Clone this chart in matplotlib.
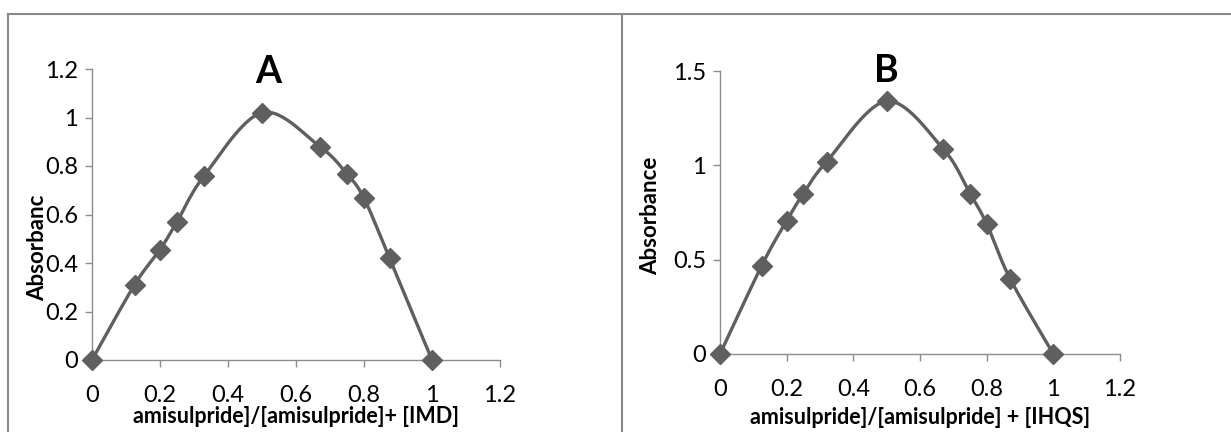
import numpy as np
import matplotlib.pyplot as plt
from matplotlib.lines import Line2D

plt.rcParams['font.family'] = ['Lato', 'DejaVu Sans']

# mole fraction of amisulpride
frac_a = [0, 0.125, 0.2, 0.25, 0.33, 0.5, 0.67, 0.75, 0.8, 0.875, 1]
abs_a = [0, 0.31, 0.455, 0.57, 0.76, 1.02, 0.88, 0.767, 0.667, 0.42, 0]

frac_b = [0, 0.125, 0.2, 0.25, 0.32, 0.5, 0.67, 0.75, 0.8, 0.87, 1]
abs_b = [0, 0.468, 0.707, 0.85, 1.02, 1.34, 1.086, 0.85, 0.69, 0.40, 0]

xticks = [0, 0.2, 0.4, 0.6, 0.8, 1, 1.2]
xtick_labels = ['0', '0.2', '0.4', '0.6', '0.8', '1', '1.2']

LINE = '#5f5f5f'
AXIS = '#8c8c8c'


def smooth(x, y, n=30):
    # Excel-like smoothed line: bezier segments with catmull-rom style handles
    x = np.asarray(x, float)
    y = np.asarray(y, float)
    px = np.concatenate([[x[0]], x, [x[-1]]])
    py = np.concatenate([[y[0]], y, [y[-1]]])
    t = np.linspace(0, 1, n)[:, None]
    xs, ys = [], []
    for i in range(1, len(px) - 2):
        p0 = np.array([px[i], py[i]])
        p3 = np.array([px[i + 1], py[i + 1]])
        c1 = p0 + (np.array([px[i + 1], py[i + 1]]) - np.array([px[i - 1], py[i - 1]])) / 6
        c2 = p3 - (np.array([px[i + 2], py[i + 2]]) - np.array([px[i], py[i]])) / 6
        pts = ((1 - t) ** 3) * p0 + 3 * ((1 - t) ** 2) * t * c1 + 3 * (1 - t) * t ** 2 * c2 + t ** 3 * p3
        xs.append(pts[:, 0])
        ys.append(pts[:, 1])
    return np.concatenate(xs), np.concatenate(ys)


def panel(ax, x, y, ymax, ystep, xlabel, ylabel):
    sx, sy = smooth(x, y)
    ax.plot(sx, sy, color=LINE, lw=2.4, zorder=3, clip_on=False)
    ax.plot(x, y, 'D', color=LINE, ms=10, zorder=4, clip_on=False)
    ax.set_xlim(0, 1.2)
    ax.set_ylim(0, ymax)
    ax.set_xticks(xticks)
    ax.set_xticklabels(xtick_labels)
    yt = np.arange(0, ymax + 1e-9, ystep)
    ax.set_yticks(yt)
    ax.set_yticklabels(['%g' % v for v in yt])
    for s in ['top', 'right']:
        ax.spines[s].set_visible(False)
    for s in ['left', 'bottom']:
        ax.spines[s].set_color(AXIS)
        ax.spines[s].set_linewidth(1.0)
    ax.tick_params(colors=AXIS, labelcolor='black', labelsize=17, length=5, width=1.0)
    ax.tick_params(axis='x', pad=13)
    ax.tick_params(axis='y', pad=5)
    ax.set_xlabel(xlabel, fontsize=15.5, fontweight='bold')
    ax.set_ylabel(ylabel, fontsize=16, fontweight='bold')


fig = plt.figure(figsize=(12.31, 4.32), dpi=100)

ax1 = fig.add_axes([92 / 1231, 1 - 360 / 432, 408 / 1231, 291 / 432])
panel(ax1, frac_a, abs_a, 1.2, 0.2,
      'amisulpride]/[amisulpride]+ [IMD]', 'Absorbanc')
ax1.text(0.431, 0.99, 'A', transform=ax1.transAxes, ha='center', va='center',
         fontsize=27, fontweight='bold')
ax1.xaxis.set_label_coords(0.5, -0.158)
ax1.yaxis.set_label_coords(-0.108, 0.385)

ax2 = fig.add_axes([720 / 1231, 1 - 354 / 432, 400 / 1231, 283 / 432])
panel(ax2, frac_b, abs_b, 1.5, 0.5,
      'amisulpride]/[amisulpride] + [IHQS]', 'Absorbance')
ax2.text(0.415, 1.0, 'B', transform=ax2.transAxes, ha='center', va='center',
         fontsize=27, fontweight='bold')
ax2.xaxis.set_label_coords(0.5, -0.186)
ax2.yaxis.set_label_coords(-0.147, 0.49)

# chart frames
W, H = 1231, 432
for seg in [((8, W), (14, 14)), ((8, 8), (14, 0)), ((622, 622), (14, 0))]:
    xs = [v / W for v in seg[0]]
    ys = [1 - v / H if v else 0 for v in seg[1]]
    fig.add_artist(Line2D(xs, ys, color='#8a8a8a', lw=1.5))

fig.savefig('out.png', dpi=100)
